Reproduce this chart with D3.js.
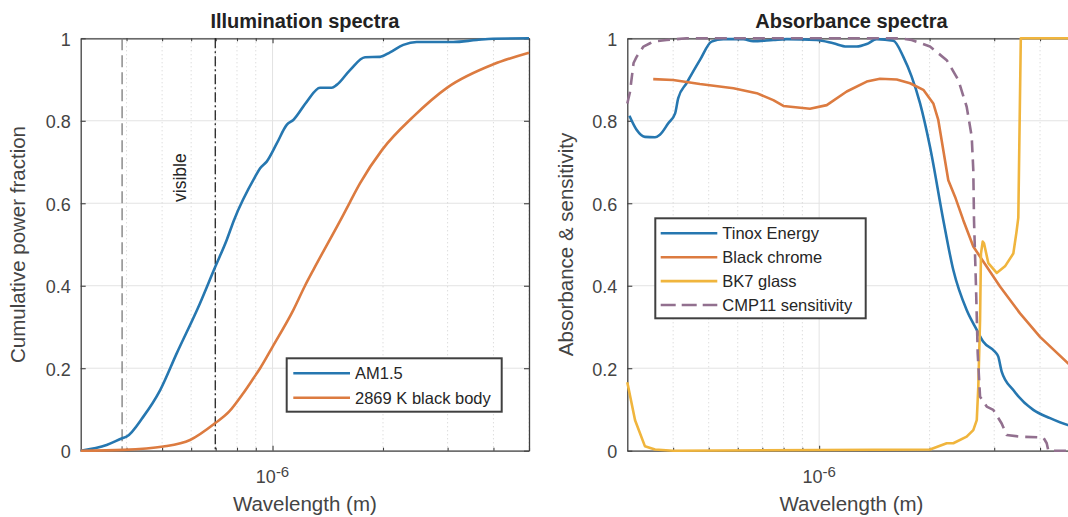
<!DOCTYPE html>
<html>
<head>
<meta charset="utf-8">
<script src="https://cdn.jsdelivr.net/npm/d3@7"></script>
<style>
  html, body { margin: 0; padding: 0; background: #ffffff; }
  svg { display: block; font-family: "Liberation Sans", Arial, Helvetica, sans-serif; }
</style>
</head>
<body>
<svg id="chart" width="1068" height="517"></svg>
<script>
// ---------------- DATA (wavelengths in nm) ----------------
const yTickValues = [0, 0.2, 0.4, 0.6, 0.8, 1];
const yTickLabels = ["0", "0.2", "0.4", "0.6", "0.8", "1"];
const xMajorTicks = [1000];
const xMajorLabels = [["10", "-6"]];
const xMinorTicks = [400, 500, 600, 700, 800, 900, 2000, 3000, 4000, 5000];
const visibleBounds = [389, 698];

// Left panel: cumulative power fraction
const am15Wl  = [300, 353, 389, 400, 444, 494, 548, 634, 698, 750, 785, 896, 925, 964, 1027, 1093, 1139, 1239, 1347, 1450, 1496, 1626, 1787, 1964, 2090, 2272, 2471, 3108, 3600, 3997, 5000];
const am15Val = [0, 0.014, 0.030, 0.034, 0.082, 0.147, 0.236, 0.357, 0.446, 0.511, 0.559, 0.664, 0.685, 0.701, 0.745, 0.790, 0.802, 0.846, 0.880, 0.880, 0.887, 0.923, 0.954, 0.955, 0.966, 0.984, 0.991, 0.991, 0.996, 0.999, 1.0];

const bbWl  = [300, 392, 504, 596, 698, 760, 833, 886, 925, 1000, 1139, 1226, 1291, 1559, 1626, 1731, 1991, 2419, 3000, 4000, 5000];
const bbVal = [0, 0.002, 0.010, 0.026, 0.067, 0.094, 0.140, 0.175, 0.200, 0.252, 0.341, 0.400, 0.438, 0.572, 0.603, 0.648, 0.730, 0.810, 0.881, 0.937, 0.965];

// Right panel: absorbance & sensitivity
const tinoxWl  = [304, 318, 335, 357, 368, 388, 405, 413, 435, 473, 509, 548, 621, 661, 750, 816, 985, 1093, 1189, 1266, 1348, 1435, 1593, 1696, 1787, 1884, 2005, 2180, 2321, 2524, 2689, 2802, 3015, 3078, 3144, 3382, 3834, 4259, 4769, 5000];
const tinoxVal = [0.812, 0.778, 0.761, 0.760, 0.766, 0.794, 0.818, 0.855, 0.891, 0.947, 0.992, 0.998, 0.998, 0.993, 0.996, 0.998, 0.996, 0.988, 0.980, 0.980, 0.986, 0.998, 0.994, 0.955, 0.907, 0.842, 0.737, 0.559, 0.438, 0.341, 0.293, 0.264, 0.240, 0.228, 0.192, 0.147, 0.099, 0.079, 0.062, 0.057];

const chromeWl  = [353, 400, 473, 584, 676, 750, 799, 944, 1049, 1189, 1348, 1465, 1627, 1769, 1923, 2047, 2112, 2249, 2346, 2471, 2631, 3111, 3528, 3999, 4769, 5000];
const chromeVal = [0.901, 0.899, 0.889, 0.879, 0.867, 0.850, 0.836, 0.829, 0.838, 0.871, 0.895, 0.902, 0.900, 0.891, 0.875, 0.842, 0.802, 0.656, 0.616, 0.559, 0.495, 0.398, 0.333, 0.276, 0.212, 0.196];

const bk7Wl  = [300, 315, 335, 357, 400, 2005, 2227, 2321, 2524, 2631, 2689, 2715, 2745, 2761, 2791, 2814, 2891, 3047, 3210, 3382, 3450, 3490, 3545, 5000];
const bk7Val = [0.166, 0.074, 0.011, 0.003, 0, 0.003, 0.018, 0.018, 0.034, 0.050, 0.074, 0.155, 0.316, 0.478, 0.507, 0.503, 0.455, 0.431, 0.447, 0.478, 0.530, 0.565, 1.0, 1.0];

const cmpWl  = [300, 305, 312, 318, 332, 346, 353, 384, 435, 1661, 1787, 2005, 2227, 2395, 2524, 2605, 2631, 2643, 2676, 2705, 2745, 2862, 2983, 3144, 3244, 3528, 4083, 4171, 4214, 5000];
const cmpVal = [0.842, 0.869, 0.940, 0.955, 0.980, 0.988, 0.992, 0.996, 1.0, 1.0, 0.996, 0.980, 0.947, 0.899, 0.834, 0.762, 0.681, 0.559, 0.398, 0.236, 0.131, 0.107, 0.099, 0.066, 0.038, 0.034, 0.032, 0.018, 0.0, 0.0];

const leftTitle = "Illumination spectra";
const rightTitle = "Absorbance spectra";
const xLabel = "Wavelength (m)";
const leftYLabel = "Cumulative power fraction";
const rightYLabel = "Absorbance & sensitivity";
const visibleText = "visible";
const leftLegend = ["AM1.5", "2869 K black body"];
const rightLegend = ["Tinox Energy", "Black chrome", "BK7 glass", "CMP11 sensitivity"];

// ---------------- STYLE ----------------
const C_BLUE = "#2677b0", C_ORANGE = "#dc7b40", C_YELLOW = "#f0b53d", C_PURPLE = "#92708f";
const AX = "#404040", TXT = "#444444";
const FONT = '"Liberation Sans", Arial, Helvetica, sans-serif';

const svg = d3.select("#chart");
const plotTop = 38.3, plotBottom = 450.7;
const y = d3.scaleLinear().domain([0, 1]).range([plotBottom, plotTop]);

function zip(a, b) { return a.map((v, i) => [v, b[i]]); }

function drawPanel(id, x0, x1, opts) {
  const x = d3.scaleLog().domain([300, 5000]).range([x0, x1]);
  const g = svg.append("g");
  const clipId = "clip-" + id;
  svg.append("defs").append("clipPath").attr("id", clipId)
    .append("rect").attr("x", x0 - 1.5).attr("y", plotTop - 1.5)
    .attr("width", x1 - x0 + 3).attr("height", plotBottom - plotTop + 3);

  // grid
  const grid = g.append("g");
  grid.selectAll("line.hg").data(yTickValues).join("line")
    .attr("x1", x0).attr("x2", x1).attr("y1", d => y(d)).attr("y2", d => y(d))
    .attr("stroke", "#e3e3e3").attr("stroke-width", 1);
  grid.append("g").selectAll("line").data(xMajorTicks).join("line")
    .attr("x1", d => x(d)).attr("x2", d => x(d)).attr("y1", plotTop).attr("y2", plotBottom)
    .attr("stroke", "#e3e3e3").attr("stroke-width", 1);
  grid.append("g").selectAll("line").data(xMinorTicks).join("line")
    .attr("x1", d => x(d)).attr("x2", d => x(d)).attr("y1", plotTop).attr("y2", plotBottom)
    .attr("stroke", "#cfcfcf").attr("stroke-width", 1).attr("stroke-dasharray", "1,3");

  // axes (drawn beneath data, as in the reference)
  const styleAxis = sel => {
    sel.selectAll("path.domain").attr("stroke", AX).attr("stroke-width", 1.3);
    sel.selectAll(".tick line").attr("stroke", AX).attr("stroke-width", 1.1);
    sel.selectAll(".tick text").attr("fill", TXT).attr("font-family", FONT);
  };
  const yLeft = g.append("g").attr("transform", `translate(${x0},0)`)
    .call(d3.axisLeft(y).tickValues(yTickValues).tickFormat((d, i) => yTickLabels[i])
      .tickSizeInner(-5).tickSizeOuter(0).tickPadding(10));
  yLeft.attr("font-size", 18); styleAxis(yLeft);
  yLeft.selectAll(".tick text").attr("dy", "0.38em");
  const yRight = g.append("g").attr("transform", `translate(${x1},0)`)
    .call(d3.axisRight(y).tickValues(yTickValues).tickFormat("").tickSizeInner(-5).tickSizeOuter(0));
  styleAxis(yRight);

  const xb = g.append("g").attr("transform", `translate(0,${plotBottom})`)
    .call(d3.axisBottom(x).tickValues(xMajorTicks).tickFormat("").tickSizeInner(-5).tickSizeOuter(0));
  styleAxis(xb);
  const xbMin = g.append("g").attr("transform", `translate(0,${plotBottom})`)
    .call(d3.axisBottom(x).tickValues(xMinorTicks).tickFormat("").tickSizeInner(-3).tickSizeOuter(0));
  styleAxis(xbMin); xbMin.select("path.domain").remove();
  const xt = g.append("g").attr("transform", `translate(0,${plotTop})`)
    .call(d3.axisTop(x).tickValues(xMajorTicks).tickFormat("").tickSizeInner(-5).tickSizeOuter(0));
  styleAxis(xt);
  const xtMin = g.append("g").attr("transform", `translate(0,${plotTop})`)
    .call(d3.axisTop(x).tickValues(xMinorTicks).tickFormat("").tickSizeInner(-3).tickSizeOuter(0));
  styleAxis(xtMin); xtMin.select("path.domain").remove();

  // data
  const plot = g.append("g").attr("clip-path", `url(#${clipId})`);
  if (opts.extra) opts.extra(plot, x);

  opts.series.forEach(s => {
    const line = d3.line().x(d => x(d[0])).y(d => y(d[1]))
      .curve(s.smooth ? d3.curveMonotoneX : d3.curveLinear);
    plot.append("path").datum(zip(s.wl, s.val))
      .attr("fill", "none").attr("stroke", s.color).attr("stroke-width", 2.6)
      .attr("stroke-linejoin", "round")
      .attr("stroke-dasharray", s.dash || null)
      .attr("d", line);
  });

  // x tick labels with superscript
  xMajorTicks.forEach((v, i) => {
    const t = g.append("text").attr("x", x(v)).attr("y", 483.3)
      .attr("text-anchor", "middle").attr("fill", TXT).attr("font-family", FONT).attr("font-size", 18);
    t.append("tspan").text(xMajorLabels[i][0]);
    t.append("tspan").attr("font-size", 15).attr("dy", -6).text(xMajorLabels[i][1]);
  });

  // labels
  g.append("text").attr("x", (x0 + x1) / 2).attr("y", 28.3).attr("text-anchor", "middle")
    .attr("font-weight", "bold").attr("font-size", 20).attr("fill", "#222").attr("font-family", FONT)
    .text(opts.title);
  g.append("text").attr("x", (x0 + x1) / 2).attr("y", 511).attr("text-anchor", "middle")
    .attr("font-size", 20.5).attr("fill", TXT).attr("font-family", FONT).text(xLabel);
  g.append("text").attr("transform", `translate(${opts.yLabelX},${(plotTop + plotBottom) / 2}) rotate(-90)`)
    .attr("text-anchor", "middle").attr("font-size", 20.5).attr("fill", TXT).attr("font-family", FONT)
    .text(opts.yLabel);

  // legend
  const L = opts.legend;
  const lg = g.append("g");
  lg.append("rect").attr("x", L.x).attr("y", L.y).attr("width", L.w).attr("height", L.h)
    .attr("fill", "#fff").attr("stroke", AX).attr("stroke-width", 2);
  L.items.forEach((it, i) => {
    const cy = L.firstY + i * L.step;
    lg.append("line").attr("x1", L.lx0).attr("x2", L.lx1).attr("y1", cy).attr("y2", cy)
      .attr("stroke", it.color).attr("stroke-width", 2.6).attr("stroke-dasharray", it.dash || null);
    lg.append("text").attr("x", L.tx).attr("y", cy).attr("dy", "0.36em")
      .attr("font-size", 16.5).attr("fill", "#262626").attr("font-family", FONT).text(it.label);
  });
  return x;
}

// Left panel
drawPanel("left", 80.7, 529, {
  title: leftTitle,
  yLabel: leftYLabel,
  yLabelX: 25,
  series: [
    { wl: am15Wl, val: am15Val, color: C_BLUE, smooth: true },
    { wl: bbWl, val: bbVal, color: C_ORANGE, smooth: true }
  ],
  extra: (plot, x) => {
    plot.append("line").attr("x1", x(visibleBounds[0])).attr("x2", x(visibleBounds[0]))
      .attr("y1", plotTop).attr("y2", plotBottom).attr("stroke", "#7a7a7a").attr("stroke-width", 1.3)
      .attr("stroke-dasharray", "12,5");
    plot.append("line").attr("x1", x(visibleBounds[1])).attr("x2", x(visibleBounds[1]))
      .attr("y1", plotTop).attr("y2", plotBottom).attr("stroke", "#111").attr("stroke-width", 1.2)
      .attr("stroke-dasharray", "10,3,2,3");
    plot.append("text").attr("transform", `translate(185.5,177.7) rotate(-90)`)
      .attr("text-anchor", "middle").attr("font-size", 17.5).attr("fill", "#262626")
      .attr("font-family", FONT).text(visibleText);
  },
  legend: {
    x: 286.7, y: 358.3, w: 215, h: 53.4, firstY: 373.3, step: 24.4, lx0: 293.3, lx1: 350, tx: 355,
    items: [
      { label: leftLegend[0], color: C_BLUE },
      { label: leftLegend[1], color: C_ORANGE }
    ]
  }
});

// Right panel
drawPanel("right", 627.3, 1075.6, {
  title: rightTitle,
  yLabel: rightYLabel,
  yLabelX: 573,
  series: [
    { wl: tinoxWl, val: tinoxVal, color: C_BLUE, smooth: true },
    { wl: chromeWl, val: chromeVal, color: C_ORANGE },
    { wl: bk7Wl, val: bk7Val, color: C_YELLOW },
    { wl: cmpWl, val: cmpVal, color: C_PURPLE, dash: "12,7" }
  ],
  legend: {
    x: 655.3, y: 218.3, w: 210.4, h: 100, firstY: 233.3, step: 23.9, lx0: 660.7, lx1: 717.3, tx: 722.3,
    items: [
      { label: rightLegend[0], color: C_BLUE },
      { label: rightLegend[1], color: C_ORANGE },
      { label: rightLegend[2], color: C_YELLOW },
      { label: rightLegend[3], color: C_PURPLE, dash: "15,6" }
    ]
  }
});
</script>
</body>
</html>
